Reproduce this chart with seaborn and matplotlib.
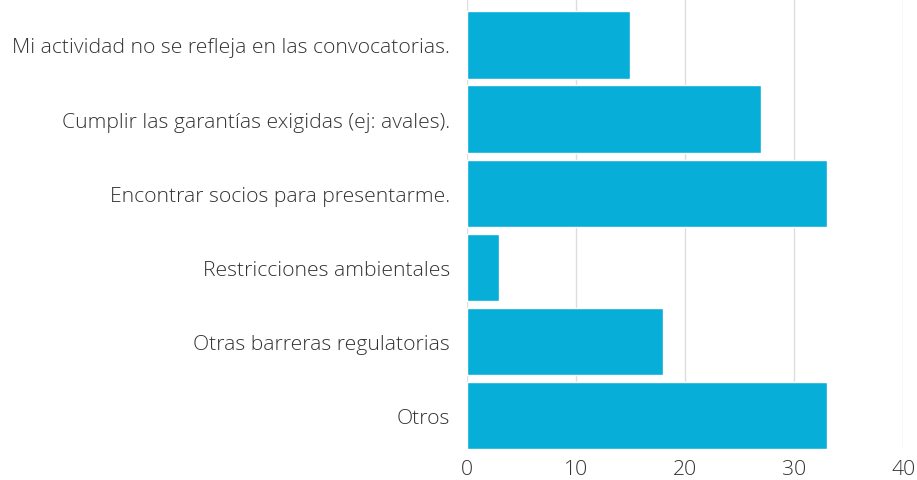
import pandas as pd
import seaborn as sns
from matplotlib import pyplot as plt

sns.set_style("white")
plt.rcParams['font.family'] = ['Open Sans', 'DejaVu Sans']

categories = [
    "Mi actividad no se refleja en las convocatorias.",
    "Cumplir las garantías exigidas (ej: avales).",
    "Encontrar socios para presentarme.",
    "Restricciones ambientales",
    "Otras barreras regulatorias",
    "Otros",
]
values = [15, 27, 33, 3, 18, 33]
x_ticks = [0, 10, 20, 30, 40]

data = pd.DataFrame({"categoria": categories, "valor": values})

fig = plt.figure(figsize=(9.17, 4.81), dpi=100)
ax = fig.add_axes([0.509, 0.0644, 0.476, 0.9356])

sns.barplot(data=data, x="valor", y="categoria", color="#06AED8",
            saturation=1, width=0.91, ax=ax)

ax.set_xlim(0, 40)
ax.set_ylim(5.45, -0.62)
ax.set_xticks(x_ticks)
ax.xaxis.grid(True, color="#dddddd", linewidth=1)
ax.set_axisbelow(True)
for s in ax.spines.values():
    s.set_visible(False)
ax.set_xlabel("")
ax.set_ylabel("")
ax.tick_params(axis="y", length=0, pad=12, labelsize=15.2, labelcolor="#333333")
ax.tick_params(axis="x", length=0, pad=7, labelsize=15.2, labelcolor="#333333")
for lbl in ax.get_yticklabels() + ax.get_xticklabels():
    lbl.set_fontweight("light")

fig.savefig("out.png", dpi=100)
